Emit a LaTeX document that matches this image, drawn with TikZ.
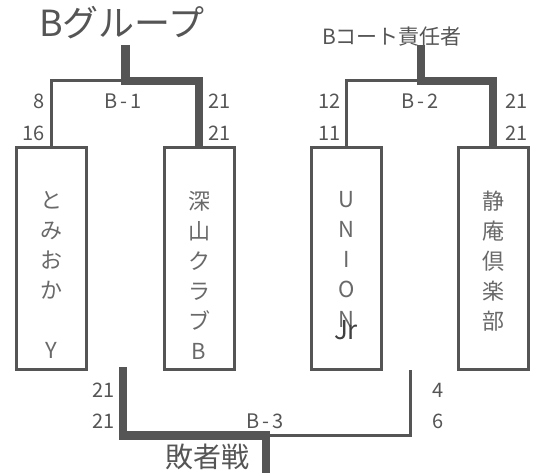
\documentclass[tikz,border=0pt]{standalone}
\usepackage{fontspec}
\setmainfont{Noto Sans CJK JP}
\usetikzlibrary{positioning, calc}
\definecolor{linegray}{RGB}{85,85,85}
\definecolor{namegray}{RGB}{105,105,105}

\begin{document}
\begin{tikzpicture}[x=1pt, y=-1pt,
    teambox/.style={draw=linegray, line width=3pt, minimum width=70pt, minimum height=222pt, inner sep=0pt},
    teamname/.style={text=namegray, font=\fontsize{22}{30}\selectfont, align=center, inner sep=0pt},
    loser/.style={draw=linegray, line width=3pt},
    winner/.style={draw=linegray, line width=8.5pt},
    score/.style={text=linegray, font=\fontsize{20}{20}\selectfont, inner sep=0pt}]
      \useasboundingbox (0,0) rectangle (534,473);

      % titles
      \node[text=linegray, font=\fontsize{36}{36}\selectfont, inner sep=0pt, anchor=base] (grouptitle) at (122,37) {Bグループ};
      \node[text=linegray, font=\fontsize{21}{21}\selectfont, inner sep=0pt, anchor=base] (courttitle) at (392,45) {Bコート責任者};
      \node[text=linegray, font=\fontsize{28}{28}\selectfont, inner sep=0pt, anchor=base] (losers) at (207,467) {敗者戦};

      % teams
      \node[teambox] (tomioka) at (51.5,258.5) {};
      \node[teambox] (fukayama) at (199,258.5) {};
      \node[teambox] (union) at (346.5,258.5) {};
      \node[teambox] (shizuan) at (493,258.5) {};

      \node[teamname, below=45pt of tomioka.north] (tomiokaname) {と\\み\\お\\か\\　\\Y};
      \node[teamname, below=45pt of fukayama.north] (fukayamaname) {深\\山\\ク\\ラ\\ブ\\B};
      \node[teamname, below=45pt of union.north] (unionname) {U\\N\\I\\O\\N};
      \node[text=black!75, font=\fontsize{26}{26}\selectfont, inner sep=0pt] (jr) at (346,330) {Jr};
      \node[teamname, below=45pt of shizuan.north] (shizuanname) {静\\庵\\倶\\楽\\部};

      % B-1
      \coordinate (groupfoot) at (125.5,45);
      \coordinate (b1bar) at (125.5,81);
      \draw[loser] (tomioka.north) |- (b1bar);
      \draw[winner, shorten >=-1.5pt] (groupfoot) -- (b1bar) -| (fukayama.north);
      \node[score, anchor=base] (b1) at (123,109) {B\kern3pt-\kern3pt1};
      \node[score, anchor=base east] (b1a) at (45,109) {8};
      \node[score, anchor=base east] (b1b) at (45,140) {16};
      \node[score, anchor=base west] (b1c) at (208,109) {21};
      \node[score, anchor=base west] (b1d) at (208,140) {21};

      % B-2
      \coordinate (courtfoot) at (421,45);
      \coordinate (b2bar) at (421,81);
      \draw[loser] (union.north) |- (b2bar);
      \draw[winner, shorten >=-1.5pt] (courtfoot) -- (b2bar) -| (shizuan.north);
      \node[score, anchor=base] (b2) at (420,109) {B\kern3pt-\kern3pt2};
      \node[score, anchor=base east] (b2a) at (341,109) {12};
      \node[score, anchor=base east] (b2b) at (341,140) {11};
      \node[score, anchor=base west] (b2c) at (505,109) {21};
      \node[score, anchor=base west] (b2d) at (505,140) {21};

      % B-3
      \coordinate (b3left) at (123,367);
      \coordinate (b3right) at (410,370);
      \coordinate (b3bar) at (266,435.5);
      \draw[loser] (b3right) |- (b3bar);
      \draw[winner] (b3left) |- (b3bar) -- (266,473);
      \node[score, anchor=base] (b3) at (265,428) {B\kern3pt-\kern3pt3};
      \node[score, anchor=base east] (b3a) at (115,397) {21};
      \node[score, anchor=base east] (b3b) at (115,428) {21};
      \node[score, anchor=base west] (b3c) at (432,397) {4};
      \node[score, anchor=base west] (b3d) at (432,428) {6};
    \end{tikzpicture}
\end{document}
